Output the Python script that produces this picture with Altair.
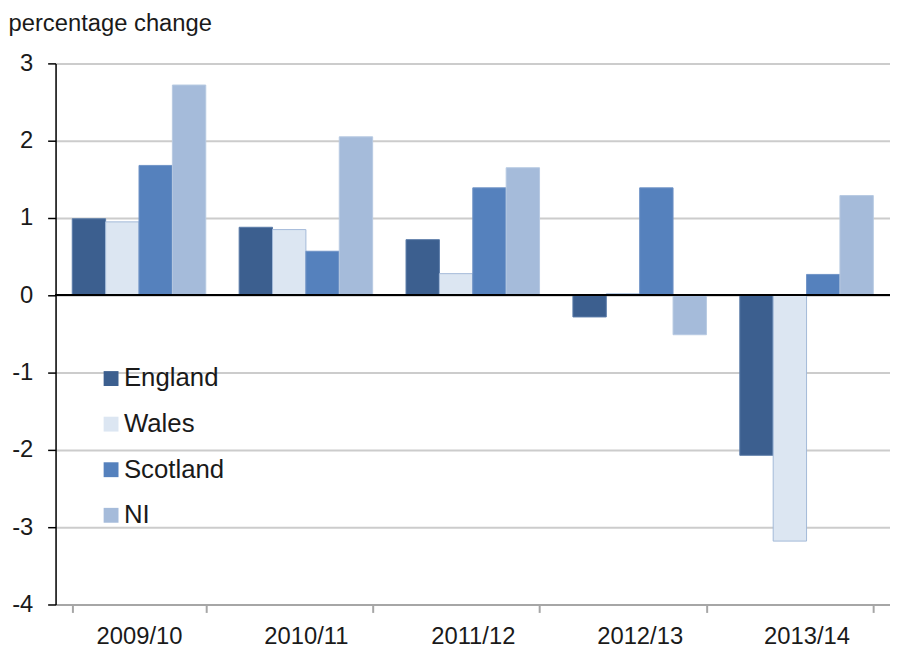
import altair as alt
import pandas as pd

years = ["2009/10", "2010/11", "2011/12", "2012/13", "2013/14"]
regions = ["England", "Wales", "Scotland", "NI"]
england = [0.99, 0.88, 0.72, -0.28, -2.07]
wales = [0.95, 0.85, 0.28, 0.02, -3.18]
scotland = [1.68, 0.57, 1.39, 1.39, 0.27]
ni = [2.72, 2.05, 1.65, -0.51, 1.29]

fills = ["#3C5F8F", "#DCE6F2", "#5581BD", "#A5BBDA"]
strokes = ["#5A7BA8", "#A3B9D9", "#6F93C6", "#B7C9E2"]

rows = []
for name, vals in zip(regions, [england, wales, scotland, ni]):
    for y, v in zip(years, vals):
        rows.append({"year": y, "region": name, "value": v})
df = pd.DataFrame(rows)

FONT = "Liberation Sans"

bars = alt.Chart(df).mark_bar(strokeWidth=1).encode(
    x=alt.X("year:N", sort=years, title=None,
            scale=alt.Scale(paddingInner=0.2, paddingOuter=0.1),
            axis=alt.Axis(labelAngle=0, labelFontSize=24, labelColor="#1a1a1a",
                          labelFont=FONT, labelPadding=12,
                          domainColor="#a6a6a6", domainWidth=2,
                          tickColor="#a6a6a6", tickWidth=2, tickSize=8,
                          tickBand="extent", grid=False)),
    xOffset=alt.XOffset("region:N", sort=regions,
                        scale=alt.Scale(paddingInner=0, paddingOuter=0)),
    y=alt.Y("value:Q", scale=alt.Scale(domain=[-4, 3], nice=False),
            axis=alt.Axis(values=[-4, -3, -2, -1, 0, 1, 2, 3],
                          labelExpr="'' + datum.value",
                          labelFontSize=24, labelColor="#1a1a1a", labelFont=FONT,
                          labelPadding=15,
                          domainColor="#000000", domainWidth=1.5,
                          tickColor="#000000", tickWidth=1.5, tickSize=8,
                          grid=True, gridColor="#cccccc", gridWidth=2,
                          title="percentage change", titleAngle=0,
                          titleAlign="left", titleBaseline="alphabetic",
                          titleX=-48, titleY=-33, titleFontSize=24,
                          titleFont=FONT, titleFontWeight="normal",
                          titleColor="#1a1a1a")),
    color=alt.Color("region:N", sort=regions,
                    scale=alt.Scale(domain=regions, range=fills),
                    legend=alt.Legend(orient="none", legendX=43, legendY=305,
                                      title=None, symbolType="square",
                                      symbolSize=225, symbolStrokeWidth=0,
                                      labelFontSize=26, labelFont=FONT,
                                      labelColor="#1a1a1a", labelOffset=0,
                                      rowPadding=20)),
    stroke=alt.Stroke("region:N", sort=regions,
                      scale=alt.Scale(domain=regions, range=strokes),
                      legend=None),
)

zero = alt.Chart(df).mark_rule(color="#000000", strokeWidth=1.5).encode(
    y=alt.datum(0)
)

chart = alt.layer(bars, zero).properties(
    width=842, height=546,
    autosize=alt.AutoSizeParams(type="none"),
    padding={"left": 48, "top": 53, "right": 0, "bottom": 41},
).configure_view(stroke=None).configure(background="#ffffff")

chart.save("out.html", embed_options={"renderer": "svg", "actions": False})
